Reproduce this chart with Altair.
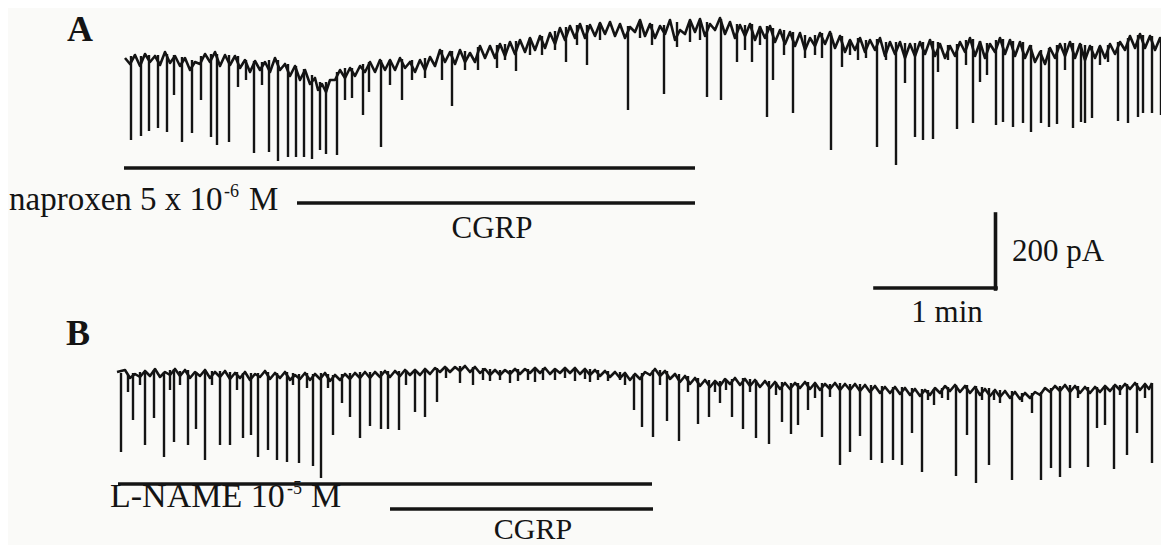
import altair as alt
import pandas as pd

# ---------------- Trace A (naproxen + CGRP) ----------------
# baseline crests (x, y), page pixels
a_base = [(125,58),(135,55),(145,54),(155,56),(165,52),(175,56),(185,58),(195,62),(205,54),(215,52),
          (225,55),(235,56),(245,60),(255,61),(265,62),(275,58),(285,64),(295,66),(305,70),(315,78),
          (322,84),(330,80),(340,70),(350,68),(360,66),(370,62),(380,60),(390,60),(400,58),(410,62),
          (420,60),(430,57),(440,50),(450,52),(460,50),(470,53),(480,46),(490,46),(500,44),(510,42),
          (520,40),(530,38),(540,36),(550,33),(560,28),(570,26),(580,24),(590,25),(600,23),(610,22),
          (620,24),(630,27),(640,20),(650,24),(660,26),(670,20),(680,30),(690,20),(700,19),(710,24),
          (720,18),(730,22),(740,25),(750,24),(760,27),(770,26),(780,30),(790,32),(800,33),(810,38),
          (820,33),(830,32),(840,36),(850,40),(860,38),(870,40),(880,38),(890,42),(900,42),(910,44),
          (920,42),(930,40),(940,44),(950,46),(960,42),(970,38),(980,42),(990,44),(1000,38),(1010,40),
          (1020,42),(1030,46),(1040,52),(1050,48),(1060,44),(1070,42),(1080,44),(1090,46),(1100,46),
          (1110,44),(1120,42),(1130,36),(1140,34),(1150,36),(1160,38),(1167,40)]
# small dips of the baseline (x, y)
a_dips = [(130,64),(140,66),(150,62),(160,65),(170,63),(180,66),(190,70),(200,64),(210,62),(220,66),
          (230,65),(240,68),(250,72),(260,70),(270,72),(280,70),(290,76),(300,80),(310,84),(318,90),
          (326,92),(335,80),(345,78),(355,76),(365,72),(375,72),(385,70),(395,70),(405,68),(415,72),
          (425,70),(435,66),(445,62),(455,64),(465,62),(475,62),(485,58),(495,58),(505,56),(515,54),
          (525,52),(535,50),(545,48),(555,44),(565,40),(575,38),(585,38),(595,36),(605,34),(615,36),
          (625,38),(635,32),(645,36),(655,38),(665,34),(675,40),(685,34),(695,32),(705,36),(715,30),
          (725,34),(735,38),(745,36),(755,40),(765,38),(775,42),(785,44),(795,46),(805,50),(815,46),
          (825,44),(835,48),(845,52),(855,50),(865,52),(875,50),(885,56),(895,54),(905,58),(915,56),
          (925,54),(935,56),(945,58),(955,56),(965,52),(975,56),(985,58),(995,52),(1005,54),(1015,56),
          (1025,58),(1035,62),(1045,64),(1055,58),(1065,56),(1075,58),(1085,60),(1095,58),(1105,58),
          (1115,54),(1125,50),(1135,48),(1145,48),(1155,50),(1163,50)]
# spikes (x, top, bottom)
a_spikes = [(131,56,140),(141,56,136),(149,55,131),(158,55,128),(167,54,132),(174,55,95),(182,57,142),
            (192,60,133),(201,56,100),(211,54,137),(217,54,145),(229,55,142),(238,56,87),(246,60,80),
            (254,61,153),(262,62,85),(269,60,152),(278,60,161),(288,64,157),(296,66,157),(304,69,157),
            (312,75,159),(320,82,150),(326,82,154),(337,72,155),(345,68,100),(352,68,98),(363,64,115),
            (369,62,92),(381,60,147),(390,60,85),(402,59,100),(412,60,80),(425,58,78),(442,50,80),
            (452,51,106),(465,51,70),(478,47,70),(497,45,68),(505,44,60),(516,41,71),(530,38,55),
            (542,36,55),(555,31,50),(566,27,62),(577,25,45),(587,25,65),(600,23,40),(628,26,110),
            (640,21,38),(652,24,45),(664,25,94),(677,22,47),(690,22,42),(700,20,40),(707,22,97),
            (721,19,100),(737,24,62),(745,25,50),(752,24,62),(760,26,45),(767,26,117),(773,28,80),
            (784,30,55),(793,32,113),(805,35,58),(815,35,55),(822,33,58),(831,33,150),(842,36,67),
            (850,40,55),(858,38,60),(866,40,58),(877,39,147),(886,42,60),(896,42,165),(905,43,83),
            (915,43,137),(923,42,140),(933,41,139),(938,42,72),(948,45,60),(957,44,129),(966,40,65),
            (973,39,123),(980,41,82),(987,43,75),(996,40,125),(1003,39,122),(1013,41,127),(1023,42,123),
            (1031,45,132),(1041,50,123),(1049,48,127),(1057,45,124),(1065,43,70),(1073,43,128),
            (1081,44,122),(1085,45,123),(1092,46,118),(1100,46,65),(1108,45,62),(1118,42,121),
            (1128,38,123),(1138,35,117),(1143,35,113),(1152,36,113),(1161,38,115)]

# ---------------- Trace B (L-NAME + CGRP) ----------------
b_base = [(117,372),(125,370),(135,374),(145,371),(155,369),(165,372),(175,369),(185,370),(195,372),
          (205,370),(215,372),(225,371),(235,373),(245,372),(255,374),(265,371),(275,373),(285,372),
          (295,375),(305,373),(315,374),(325,373),(335,375),(345,374),(355,373),(365,372),(375,372),
          (385,371),(395,371),(405,370),(415,370),(425,369),(435,368),(445,367),(455,367),(465,366),
          (475,367),(485,369),(495,370),(505,370),(515,369),(525,369),(535,368),(545,368),(555,369),
          (565,368),(575,368),(585,369),(595,370),(605,371),(615,372),(625,373),(635,374),(645,372),
          (655,369),(665,371),(675,374),(685,376),(695,378),(705,380),(715,381),(725,379),(735,378),
          (745,379),(755,380),(765,381),(775,382),(785,383),(795,383),(805,382),(815,383),(825,384),
          (835,383),(845,384),(855,384),(865,385),(875,386),(885,387),(895,387),(905,388),(915,389),
          (925,390),(935,388),(945,386),(955,385),(965,386),(975,387),(985,389),(995,390),(1005,391),
          (1015,392),(1025,393),(1035,392),(1045,388),(1055,386),(1065,385),(1075,386),(1085,387),
          (1095,387),(1105,386),(1115,385),(1125,384),(1135,383),(1145,384),(1152,383)]
b_dips = [(130,378),(140,377),(150,376),(160,377),(170,375),(180,376),(190,378),(200,376),(210,378),
          (220,377),(230,379),(240,378),(250,380),(260,377),(270,379),(280,378),(290,380),(300,379),
          (310,380),(320,379),(330,381),(340,380),(350,379),(360,378),(370,378),(380,377),(390,377),
          (400,376),(410,375),(420,375),(430,374),(440,372),(450,372),(460,371),(470,372),(480,373),
          (490,375),(500,375),(510,374),(520,374),(530,373),(540,373),(550,374),(560,373),(570,373),
          (580,374),(590,375),(600,376),(610,377),(620,378),(630,380),(640,379),(650,375),(660,376),
          (670,379),(680,382),(690,384),(700,386),(710,387),(720,386),(730,384),(740,385),(750,386),
          (760,387),(770,388),(780,389),(790,389),(800,388),(810,389),(820,390),(830,389),(840,390),
          (850,390),(860,391),(870,392),(880,393),(890,393),(900,394),(910,395),(920,396),(930,395),
          (940,393),(950,391),(960,392),(970,393),(980,395),(990,396),(1000,397),(1010,398),(1020,399),
          (1030,398),(1040,395),(1050,392),(1060,391),(1070,392),(1080,393),(1090,393),(1100,392),
          (1110,391),(1120,390),(1130,389),(1140,390),(1149,389)]
b_spikes = [(121,373,452),(128,375,392),(133,373,420),(140,372,385),(145,371,445),(154,370,418),
            (164,372,457),(170,370,390),(174,369,442),(180,371,385),(188,370,445),(196,372,429),
            (205,370,460),(212,371,385),(220,371,445),(230,372,445),(237,372,390),(243,373,438),
            (251,373,435),(258,373,457),(268,372,450),(277,373,460),(287,372,462),(293,373,385),
            (299,374,463),(307,373,388),(313,374,466),(321,373,478),(328,374,388),(333,375,435),
            (342,374,403),(350,373,417),(360,372,438),(370,372,426),(381,371,429),(388,371,429),
            (399,371,430),(406,370,385),(415,370,412),(425,369,417),(437,368,402),(446,367,378),
            (460,366,383),(473,367,385),(483,368,380),(490,369,381),(500,370,380),(510,370,383),
            (518,369,381),(528,369,380),(535,368,382),(543,368,380),(555,369,380),(565,368,378),
            (575,368,381),(585,369,379),(590,369,382),(598,370,380),(608,371,381),(620,372,380),
            (625,373,385),(634,374,410),(642,373,427),(653,370,437),(660,370,385),(667,371,421),
            (679,374,441),(688,376,392),(698,378,424),(709,380,417),(715,381,392),(720,381,403),
            (726,380,390),(732,379,417),(743,378,429),(750,379,392),(756,380,438),(769,381,444),
            (776,382,395),(782,382,422),(791,383,434),(798,383,425),(808,382,410),(815,383,398),
            (822,383,437),(830,384,397),(840,383,465),(850,384,452),(860,384,436),(871,385,460),
            (882,386,463),(893,387,460),(902,387,465),(912,388,433),(922,389,472),(928,390,400),
            (934,389,405),(942,388,398),(948,387,400),(956,385,476),(967,385,435),(976,386,483),
            (982,387,400),(989,388,465),(994,390,400),(1000,390,403),(1012,391,480),(1022,393,402),
            (1032,393,413),(1041,392,480),(1051,388,468),(1060,386,477),(1070,385,468),(1078,386,398),
            (1088,387,467),(1097,387,428),(1105,386,425),(1114,385,469),(1120,385,395),(1127,384,455),
            (1137,383,433),(1145,384,398),(1152,383,463)]

# ---------------- treatment bars and scale bar ----------------
bar_x0 = [124, 297, 118, 390]
bar_x1 = [695, 695, 652, 653]
bar_y = [168, 203, 484, 509]
scale_x0 = [875, 995.5]
scale_x1 = [996, 995.5]
scale_y0 = [288, 214]
scale_y1 = [288, 289]

# ---------------- labels ----------------
panel_text = ["A", "B"]
panel_x = [67, 66]
panel_y = [41, 345]
left_text = ["naproxen 5 x 10", "M"]
left_x = [9, 249]
left_y = [210, 210]
lname_text = ["L-NAME 10", "M"]
lname_x = [110, 311]
lname_y = [507, 507]
unit_text = ["200 pA"]
unit_x = [1012]
unit_y = [261]
sup_text = ["-6", "-5"]
sup_x = [224, 287]
sup_y = [197, 494]
center_text = ["CGRP", "1 min"]
center_x = [492, 947]
center_y = [238, 322]
bottom_text = ["CGRP"]
bottom_x = [533]
bottom_y = [539]

INK = "#141414"
FONT = "Liberation Serif"

line_df = pd.concat([
    pd.DataFrame(a_base + a_dips, columns=["x", "y"]).assign(trace="A"),
    pd.DataFrame(b_base + b_dips, columns=["x", "y"]).assign(trace="B"),
]).sort_values(["trace", "x"])
spk_df = pd.concat([
    pd.DataFrame(a_spikes, columns=["x", "top", "bottom"]),
    pd.DataFrame(b_spikes, columns=["x", "top", "bottom"]),
])
bars_df = pd.DataFrame({"x0": bar_x0, "x1": bar_x1, "y": bar_y})
scale_df = pd.DataFrame({"x0": scale_x0, "x1": scale_x1, "y0": scale_y0, "y1": scale_y1})
panel_df = pd.DataFrame({"t": panel_text, "x": panel_x, "y": panel_y})
left_df = pd.DataFrame({"t": left_text, "x": left_x, "y": left_y})
lname_df = pd.DataFrame({"t": lname_text, "x": lname_x, "y": lname_y})
unit_df = pd.DataFrame({"t": unit_text, "x": unit_x, "y": unit_y})
sup_df = pd.DataFrame({"t": sup_text, "x": sup_x, "y": sup_y})
center_df = pd.DataFrame({"t": center_text, "x": center_x, "y": center_y})
bottom_df = pd.DataFrame({"t": bottom_text, "x": bottom_x, "y": bottom_y})

XS = alt.Scale(domain=[8, 1161], nice=False, zero=False)
YS = alt.Scale(domain=[8, 545], nice=False, zero=False, reverse=True)


def X(f):
    return alt.X(f, type="quantitative", scale=XS, axis=None)


def Y(f):
    return alt.Y(f, type="quantitative", scale=YS, axis=None)


def text_layer(df, size, align="left", weight="normal"):
    return alt.Chart(df).mark_text(font=FONT, fontSize=size, fontWeight=weight, align=align,
                                   baseline="alphabetic", color=INK).encode(
        x=X("x"), y=Y("y"), text="t")


lines = alt.Chart(line_df).mark_line(color=INK, strokeWidth=2.6, strokeJoin="round").encode(
    x=X("x"), y=Y("y"), detail="trace:N", order="x:Q")
spikes = alt.Chart(spk_df).mark_rule(color=INK, strokeWidth=2.4).encode(
    x=X("x"), y=Y("top"), y2="bottom")
bars = alt.Chart(bars_df).mark_rule(color=INK, strokeWidth=3.6).encode(
    x=X("x0"), x2="x1", y=Y("y"))
scalebar = alt.Chart(scale_df).mark_rule(color=INK, strokeWidth=3.6, strokeCap="square").encode(
    x=X("x0"), x2="x1", y=Y("y0"), y2="y1")

chart = alt.layer(
    lines, spikes, bars, scalebar,
    text_layer(panel_df, 36, weight="bold"),
    text_layer(left_df, 33),
    text_layer(lname_df, 34),
    text_layer(unit_df, 31),
    text_layer(sup_df, 18),
    text_layer(center_df, 31, align="center"),
    text_layer(bottom_df, 30, align="center"),
).properties(
    width=1153, height=537, padding=0, background="#fafaf8",
    autosize=alt.AutoSizeParams(type="none"),
).configure_view(strokeWidth=0)

chart.save("out.html", embed_options={"renderer": "svg", "actions": False})
